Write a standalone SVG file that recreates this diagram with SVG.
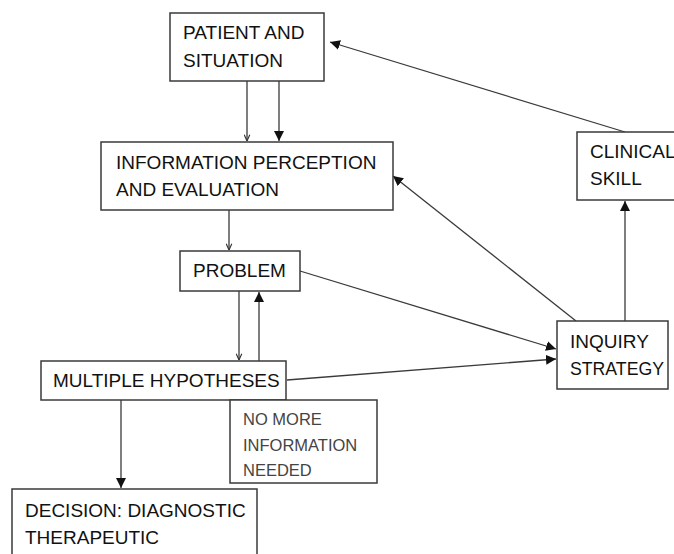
<svg xmlns="http://www.w3.org/2000/svg" width="674" height="554" viewBox="0 0 674 554">
<style>
.box{fill:#fff;stroke:#3a3a3a;stroke-width:1.5}
.t{font-family:"Liberation Sans",Arial,sans-serif;font-size:19px;fill:#111}
.s{font-family:"Liberation Sans",Arial,sans-serif;font-size:16.5px;fill:#444}
.c{fill:none;stroke:#3a3a3a;stroke-width:1.3}
.bold{marker-end:url(#ah)}
.thin{marker-end:url(#av)}
</style>
<defs>
<marker id="ah" viewBox="0 0 10 10" refX="10" refY="5" markerWidth="10" markerHeight="10" markerUnits="userSpaceOnUse" orient="auto">
<path d="M0,0 L10,5 L0,10 Z" fill="#111"/>
</marker>
<marker id="av" viewBox="0 0 10 10" refX="10" refY="5" markerWidth="7" markerHeight="7" markerUnits="userSpaceOnUse" orient="auto">
<path d="M1,1 L10,5 L1,9" fill="none" stroke="#333" stroke-width="1.6"/>
</marker>
</defs>
<rect width="674" height="554" fill="#fff"/>
<g id="connectors">
<line class="c thin" x1="247" y1="81" x2="247" y2="141"/>
<line class="c bold" x1="279" y1="81" x2="279" y2="141"/>
<line class="c thin" x1="229" y1="210" x2="229" y2="250"/>
<line class="c thin" x1="239" y1="291" x2="239" y2="360"/>
<line class="c bold" x1="259" y1="361" x2="259" y2="292"/>
<line class="c bold" x1="121" y1="400" x2="121" y2="488"/>
<line class="c bold" x1="300" y1="271" x2="556" y2="349"/>
<line class="c bold" x1="287" y1="380" x2="556" y2="359"/>
<line class="c bold" x1="576" y1="321" x2="393" y2="176"/>
<line class="c bold" x1="625" y1="321" x2="625" y2="201"/>
<line class="c bold" x1="625" y1="132" x2="330" y2="42"/>
</g>
<g id="patient">
<rect class="box" x="170" y="13" width="154" height="68"/>
<text class="t" x="183" y="39">PATIENT AND</text>
<text class="t" x="183" y="67">SITUATION</text>
</g>
<g id="info">
<rect class="box" x="101" y="142" width="292" height="68"/>
<text class="t" x="116" y="169">INFORMATION PERCEPTION</text>
<text class="t" x="116" y="196">AND EVALUATION</text>
</g>
<g id="problem">
<rect class="box" x="180" y="251" width="120" height="40"/>
<text class="t" x="193" y="277">PROBLEM</text>
</g>
<g id="hypotheses">
<rect class="box" x="41" y="361" width="245" height="39"/>
<text class="t" x="53" y="387">MULTIPLE HYPOTHESES</text>
</g>
<g id="nomore">
<rect class="box" x="230" y="400" width="147" height="83"/>
<text class="s" x="243" y="425">NO MORE</text>
<text class="s" x="243" y="451">INFORMATION</text>
<text class="s" x="243" y="476">NEEDED</text>
</g>
<g id="decision">
<rect class="box" x="12" y="489" width="245" height="80"/>
<text class="t" x="25" y="517">DECISION: DIAGNOSTIC</text>
<text class="t" x="25" y="544">THERAPEUTIC</text>
</g>
<g id="clinical">
<rect class="box" x="577" y="132" width="110" height="68"/>
<text class="t" x="590" y="158">CLINICAL</text>
<text class="t" x="590" y="185">SKILL</text>
</g>
<g id="inquiry">
<rect class="box" x="557" y="321" width="111" height="68"/>
<text class="t" x="570" y="348">INQUIRY</text>
<text class="t" x="570" y="375" textLength="94" lengthAdjust="spacingAndGlyphs">STRATEGY</text>
</g>
</svg>
